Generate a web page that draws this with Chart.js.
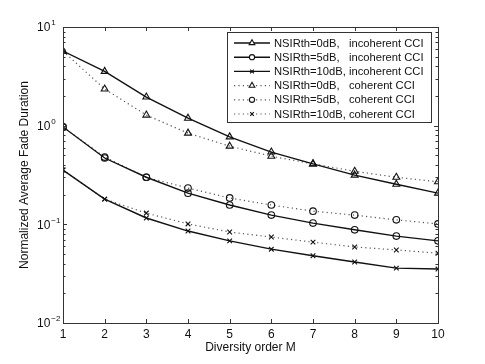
<!DOCTYPE html>
<html>
<head>
<meta charset="utf-8">
<script src="https://cdn.jsdelivr.net/npm/chart.js@4/dist/chart.umd.min.js"></script>
<style>
  body { margin: 0; background: #fff; }
  #wrap { width: 485px; height: 364px; }
</style>
</head>
<body>
<div id="wrap"><canvas id="c" width="485" height="364"></canvas></div>
<script>
// diversity order M
const diversityOrder = [1, 2, 3, 4, 5, 6, 7, 8, 9, 10];

// incoherent CCI (solid lines)
const inc0dB  = [5.7, 3.55, 1.95, 1.19, 0.77, 0.54, 0.41, 0.315, 0.255, 0.207];
const inc5dB  = [0.97, 0.47, 0.30, 0.207, 0.157, 0.124, 0.103, 0.088, 0.076, 0.068];
const inc10dB = [0.355, 0.18, 0.116, 0.0855, 0.068, 0.056, 0.048, 0.0415, 0.036, 0.0352];

// coherent CCI (dotted lines)
const coh0dB  = [5.7, 2.35, 1.28, 0.84, 0.62, 0.49, 0.41, 0.345, 0.30, 0.27];
const coh5dB  = [0.97, 0.48, 0.30, 0.233, 0.185, 0.157, 0.136, 0.124, 0.111, 0.101];
const coh10dB = [0.355, 0.18, 0.13, 0.101, 0.0836, 0.0743, 0.066, 0.059, 0.055, 0.051];

const seriesNames = [
    'NSIRth=0dB,   incoherent CCI',
    'NSIRth=5dB,   incoherent CCI',
    'NSIRth=10dB, incoherent CCI',
    'NSIRth=0dB,   coherent CCI',
    'NSIRth=5dB,   coherent CCI',
    'NSIRth=10dB, coherent CCI'
];
const yDecades = [0.01, 0.1, 1, 10];
const FONT = '"Liberation Sans", Arial, sans-serif';

function pts(vals) { return vals.map((v, i) => ({ x: diversityOrder[i], y: v })); }

function makeSet(name, vals, marker, dotted) {
    return {
        label: name,
        data: pts(vals),
        borderColor: dotted ? '#555' : '#111',
        borderWidth: dotted ? 1.2 : 1.4,
        borderDash: dotted ? [1.2, 3.2] : [],
        pointStyle: marker,
        pointRadius: marker === 'triangle' ? 4 : 3.3,
        pointBorderColor: '#111',
        pointBorderWidth: 1.1,
        pointBackgroundColor: 'rgba(0,0,0,0)',
        tension: 0,
        fill: false
    };
}

const datasets = [
    makeSet(seriesNames[0], inc0dB, 'triangle', false),
    makeSet(seriesNames[1], inc5dB, 'circle', false),
    makeSet(seriesNames[2], inc10dB, 'crossRot', false),
    makeSet(seriesNames[3], coh0dB, 'triangle', true),
    makeSet(seriesNames[4], coh5dB, 'circle', true),
    makeSet(seriesNames[5], coh10dB, 'crossRot', true)
];

// box, ticks, tick labels, titles and legend in matlab style
const matlabFrame = {
    id: 'matlabFrame',
    afterDraw(chart) {
        const ctx = chart.ctx;
        const a = chart.chartArea;
        const xs = chart.scales.x, ys = chart.scales.y;
        ctx.save();
        ctx.strokeStyle = '#333';
        ctx.lineWidth = 1;
        ctx.strokeRect(a.left + 0.5, a.top + 0.5, a.right - a.left, a.bottom - a.top);

        ctx.beginPath();
        diversityOrder.forEach(m => {
            const px = Math.round(xs.getPixelForValue(m)) + 0.5;
            ctx.moveTo(px, a.bottom); ctx.lineTo(px, a.bottom - 4);
            ctx.moveTo(px, a.top); ctx.lineTo(px, a.top + 4);
        });
        for (let d = 0; d < yDecades.length; d++) {
            const base = yDecades[d];
            for (let k = 1; k <= 9; k++) {
                const v = base * k;
                if (v > 10.0001) break;
                const py = Math.round(ys.getPixelForValue(v)) + 0.5;
                const len = k === 1 ? 4 : 2.5;
                ctx.moveTo(a.left, py); ctx.lineTo(a.left + len, py);
                ctx.moveTo(a.right, py); ctx.lineTo(a.right - len, py);
            }
        }
        ctx.stroke();

        ctx.fillStyle = '#111';
        ctx.font = '12px ' + FONT;
        ctx.textAlign = 'center';
        ctx.textBaseline = 'middle';
        diversityOrder.forEach(m => {
            ctx.fillText(String(m), xs.getPixelForValue(m), a.bottom + 12);
        });

        yDecades.forEach(v => {
            const py = ys.getPixelForValue(v);
            const exp = String(Math.round(Math.log10(v))).replace('-', '\u2212');
            ctx.font = '12px ' + FONT;
            ctx.textAlign = 'left';
            ctx.textBaseline = 'middle';
            ctx.fillText('10', 37, py + 1);
            const w = ctx.measureText('10').width;
            ctx.font = '8px ' + FONT;
            ctx.fillText(exp, 37 + w + 1, py - 4);
        });

        ctx.font = '12px ' + FONT;
        ctx.textAlign = 'center';
        ctx.fillText('Diversity order M', (a.left + a.right) / 2, 348);
        ctx.save();
        ctx.translate(25, (a.top + a.bottom) / 2);
        ctx.rotate(-Math.PI / 2);
        ctx.fillText('Normalized Average Fade Duration', 0, 0);
        ctx.restore();

        // legend
        const lx = 227, ly = 32, lw = 204, lh = 90;
        ctx.fillStyle = '#fff';
        ctx.fillRect(lx, ly, lw, lh);
        ctx.strokeStyle = '#333';
        ctx.strokeRect(lx + 0.5, ly + 0.5, lw, lh);
        chart.data.datasets.forEach((ds, i) => {
            const cy = ly + 11 + i * 14.2;
            ctx.save();
            ctx.strokeStyle = ds.borderColor;
            ctx.lineWidth = ds.borderWidth;
            ctx.setLineDash(ds.borderDash);
            ctx.beginPath();
            ctx.moveTo(234, cy); ctx.lineTo(270, cy);
            ctx.stroke();
            ctx.restore();
            ctx.save();
            ctx.strokeStyle = '#111';
            ctx.fillStyle = '#fff';
            ctx.lineWidth = 1.1;
            Chart.helpers.drawPoint(ctx, {
                pointStyle: ds.pointStyle,
                radius: ds.pointStyle === 'triangle' ? 3.3 : 2.6,
                rotation: 0,
                borderWidth: 1.1
            }, 252, cy);
            ctx.restore();
            ctx.fillStyle = '#111';
            ctx.font = '11.2px ' + FONT;
            ctx.textAlign = 'left';
            ctx.textBaseline = 'middle';
            ctx.fillText(ds.label, 274, cy + 0.5);
        });
        ctx.restore();
    }
};

new Chart(document.getElementById('c'), {
    type: 'line',
    data: { datasets: datasets },
    options: {
        responsive: false,
        devicePixelRatio: 1,
        animation: false,
        layout: { padding: { top: 27, right: 47, left: 0, bottom: 0 } },
        plugins: { legend: { display: false }, tooltip: { enabled: false } },
        scales: {
            x: {
                type: 'linear', min: 1, max: 10,
                grid: { display: false }, border: { display: false },
                ticks: { display: false },
                afterFit(s) { s.height = 41; }
            },
            y: {
                type: 'logarithmic', min: 0.01, max: 10,
                grid: { display: false }, border: { display: false },
                ticks: { display: false },
                afterFit(s) { s.width = 63; }
            }
        }
    },
    plugins: [matlabFrame]
});
</script>
</body>
</html>
